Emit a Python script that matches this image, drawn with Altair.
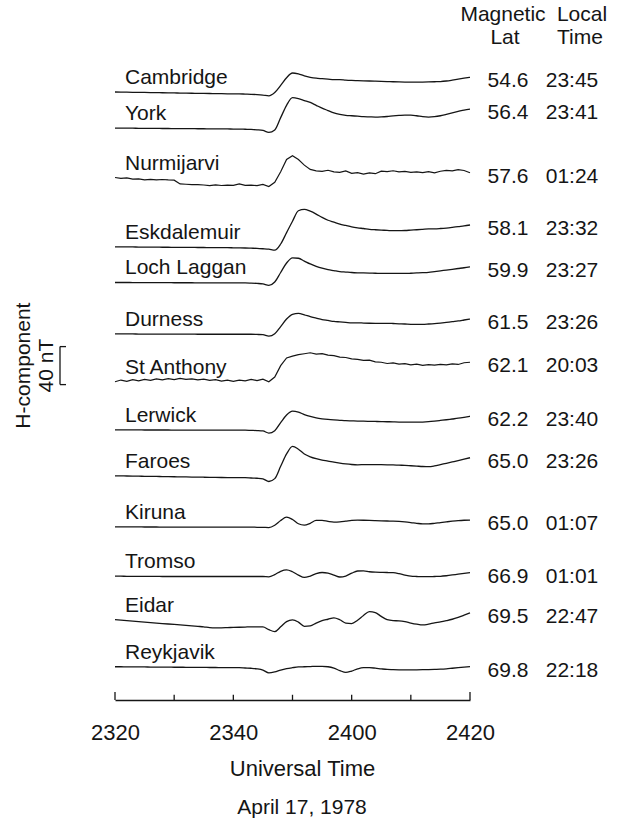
import altair as alt
import pandas as pd

# ---- data -------------------------------------------------------------
stations = ["Cambridge", "York", "Nurmijarvi", "Eskdalemuir", "Loch Laggan", "Durness",
            "St Anthony", "Lerwick", "Faroes", "Kiruna", "Tromso", "Eidar", "Reykjavik"]
mag_lat = ["54.6", "56.4", "57.6", "58.1", "59.9", "61.5", "62.1",
           "62.2", "65.0", "65.0", "66.9", "69.5", "69.8"]
mag_local_time = ["23:45", "23:41", "01:24", "23:32", "23:27", "23:26", "20:03",
                  "23:40", "23:26", "01:07", "01:01", "22:47", "22:18"]
# stations whose records carry short-period noise
noisy_stations = ["Nurmijarvi", "St Anthony"]

# minutes after 23:20 UT, one sample per minute
minutes = list(range(61))

# H-component deviation from the pre-event level, nT
cambridge = [2.0, 1.9, 1.8, 1.7, 1.6, 1.5, 1.4, 1.3, 1.2, 1.1,
             1.0, 0.9, 0.8, 0.7, 0.6, 0.5, 0.4, 0.3, 0.2, 0.1,
             0.0, 0.0, -0.2, -0.4, -0.7, -1.2, -2.0, 1.5, 9.0, 17.0,
             22.0, 21.0, 19.0, 17.5, 16.5, 16.0, 15.5, 15.0, 15.0, 14.5,
             14.2, 14.0, 13.8, 13.6, 13.4, 13.2, 13.0, 12.8, 12.6, 12.5,
             12.5, 12.5, 12.5, 12.6, 12.8, 13.0, 13.6, 14.5, 15.5, 16.5,
             17.5]
york = [1.0, 1.0, 0.9, 0.9, 0.8, 0.8, 0.7, 0.7, 0.6, 0.6,
        0.5, 0.5, 0.4, 0.4, 0.3, 0.3, 0.2, 0.2, 0.1, 0.1,
        0.0, 0.0, -0.2, -0.4, -0.8, -1.5, -3.5, -1.0, 12.0, 25.0,
        33.0, 32.0, 30.0, 28.0, 25.0, 22.0, 19.5, 17.0, 15.5, 14.5,
        14.0, 13.5, 13.0, 12.8, 12.6, 12.8, 13.2, 13.8, 14.3, 14.7,
        14.7, 14.0, 13.0, 12.6, 13.0, 14.0, 15.5, 17.0, 18.5, 20.0,
        21.0]
nurmijarvi = [8.0, 7.0, 7.6, 6.2, 6.6, 5.6, 6.1, 5.5, 5.9, 5.4,
              5.2, 1.2, 0.9, 0.6, 0.5, 0.1, -0.6, 0.3, -0.4, 0.0,
              -0.3, 1.3, -0.2, 0.0, -0.5, 0.7, -1.5, 3.0, 14.0, 27.0,
              31.0, 27.0, 21.0, 16.5, 15.0, 14.4, 15.6, 13.9, 13.4, 14.9,
              12.4, 13.1, 11.6, 12.9, 12.0, 14.7, 14.1, 15.1, 13.9, 14.4,
              13.4, 13.9, 13.1, 14.1, 12.9, 14.6, 15.4, 15.0, 16.3, 15.4,
              13.0]
eskdalemuir = [1.0, 1.0, 0.9, 0.9, 0.8, 0.8, 0.7, 0.7, 0.6, 0.6,
               0.5, 0.5, 0.4, 0.4, 0.3, 0.3, 0.2, 0.2, 0.1, 0.1,
               0.0, -0.1, -0.2, -0.4, -0.6, -1.0, -1.5, -2.5, 4.0, 16.0,
               28.0, 39.0, 40.5, 38.5, 35.5, 32.0, 29.0, 27.0, 25.0, 23.5,
               22.0, 21.0, 20.3, 19.5, 19.0, 18.6, 18.3, 18.0, 18.0, 18.2,
               18.6, 19.0, 19.5, 20.0, 20.0, 20.3, 20.8, 21.5, 22.3, 23.0,
               24.0]
loch_laggan = [0.5, 0.5, 0.5, 0.4, 0.4, 0.4, 0.3, 0.3, 0.3, 0.3,
               0.2, 0.2, 0.2, 0.2, 0.1, 0.1, 0.1, 0.1, 0.0, 0.0,
               0.0, 0.0, 0.0, -0.2, -0.5, -1.0, -2.5, 1.0, 11.0, 21.0,
               26.5, 26.0, 23.0, 20.0, 17.5, 15.5, 14.0, 13.0, 12.0, 11.5,
               11.0, 10.7, 10.5, 10.3, 10.2, 10.0, 10.0, 10.0, 10.0, 10.0,
               10.2, 10.5, 10.8, 11.2, 12.0, 12.8, 13.6, 14.4, 15.2, 16.0,
               17.0]
durness = [0.3, 0.3, 0.3, 0.3, 0.2, 0.2, 0.2, 0.2, 0.2, 0.1,
           0.1, 0.1, 0.1, 0.1, 0.0, 0.0, 0.0, 0.0, 0.0, 0.0,
           0.0, 0.0, 0.0, 0.0, -0.2, -0.5, -2.0, 0.5, 8.0, 16.0,
           21.0, 22.0, 20.5, 18.5, 17.0, 15.5, 14.5, 13.5, 13.0, 12.5,
           12.0, 12.0, 11.8, 11.6, 11.5, 11.5, 11.5, 11.3, 11.0, 10.8,
           10.5, 10.5, 10.5, 10.8, 11.2, 11.8, 12.5, 13.3, 14.0, 15.0,
           16.0]
st_anthony = [-1.0, 0.8, -0.5, 1.2, 0.0, 1.5, 0.5, 2.0, 1.0, 2.2,
              1.2, 2.5, 1.5, 2.0, 1.0, 1.8, 0.5, 1.2, -0.3, 0.8,
              -0.5, 0.6, 0.0, 1.5, 0.2, 1.8, -1.0, 4.0, 16.0, 24.0,
              26.0, 27.5, 28.5, 29.5, 28.0, 28.5, 27.0, 26.5, 25.0, 24.5,
              23.0, 22.5, 21.5, 21.8, 20.0, 19.5, 18.2, 18.8, 17.5, 18.0,
              16.8, 17.5, 16.2, 17.0, 16.5, 17.3, 16.8, 17.8, 17.2, 19.0,
              19.5]
lerwick = [0.3, 0.3, 0.3, 0.3, 0.3, 0.2, 0.2, 0.2, 0.2, 0.2,
           0.1, 0.1, 0.1, 0.1, 0.1, 0.0, 0.0, 0.0, 0.0, 0.0,
           0.0, 0.0, 0.0, -0.2, -0.4, -0.8, -3.0, -0.5, 8.0, 16.0,
           20.0, 19.0, 16.5, 14.5, 13.0, 12.0, 11.3, 10.8, 10.4, 10.0,
           9.8, 9.6, 9.5, 9.3, 9.2, 9.0, 8.9, 8.8, 8.6, 8.5,
           8.4, 8.4, 8.6, 9.0, 9.6, 10.3, 11.0, 11.8, 12.6, 13.6,
           14.7]
faroes = [2.0, 1.9, 1.8, 1.7, 1.6, 1.5, 1.4, 1.3, 1.2, 1.1,
          1.0, 0.9, 0.8, 0.7, 0.6, 0.5, 0.4, 0.3, 0.2, 0.1,
          0.0, 0.0, 0.0, -0.3, -0.6, -1.2, -4.0, -1.0, 12.0, 25.0,
          33.0, 30.0, 25.0, 22.0, 20.0, 18.5, 17.5, 16.3, 15.3, 14.5,
          13.9, 13.6, 13.7, 13.8, 13.8, 13.7, 13.6, 13.5, 13.2, 13.0,
          12.6, 12.2, 11.8, 11.6, 12.4, 13.8, 15.2, 16.6, 18.0, 19.5,
          21.0]
kiruna = [0.3, 0.3, 0.2, 0.2, 0.2, 0.1, 0.1, 0.1, 0.0, 0.0,
          0.0, 0.0, 0.0, 0.0, 0.0, 0.0, 0.0, 0.0, 0.0, 0.0,
          0.0, 0.0, 0.0, 0.0, -0.2, -0.3, -0.5, 2.0, 7.0, 10.5,
          8.0, 3.5, 2.0, 4.0, 7.0, 7.0, 6.0, 5.3, 5.5, 6.2,
          7.0, 7.3, 7.2, 7.0, 6.8, 6.6, 6.4, 6.3, 6.0, 5.5,
          4.8, 4.0, 3.4, 3.4, 4.0, 4.8, 5.5, 6.2, 6.8, 7.2,
          7.4]
tromso = [0.3, 0.3, 0.2, 0.2, 0.2, 0.1, 0.1, 0.1, 0.0, 0.0,
          0.0, 0.0, 0.0, 0.0, 0.0, 0.0, 0.0, 0.0, 0.0, 0.0,
          0.0, 0.0, 0.0, 0.0, 0.0, 0.0, -0.3, 2.0, 5.5, 7.0,
          5.0, 1.5, -1.0, 0.5, 3.0, 4.2, 3.5, 1.5, -0.5, 0.5,
          3.5, 5.8, 6.0, 5.0, 4.5, 4.3, 4.2, 4.0, 3.0, 1.5,
          0.3, 0.0, -0.2, -0.2, 0.0, 0.2, 0.8, 1.6, 2.5, 3.3,
          4.0]
eidar = [7.5, 7.0, 6.5, 6.0, 5.5, 5.0, 4.5, 4.0, 3.5, 3.0,
         2.5, 2.0, 1.5, 1.0, 0.5, 0.0, -0.8, -1.0, -1.0, -0.8,
         -0.6, -0.4, -0.2, 0.0, 0.0, 0.0, -3.0, -5.0, 0.0, 5.5,
         7.3, 5.0, 0.5, 1.0, 4.0, 6.5, 8.0, 9.5, 7.5, 4.0,
         3.5, 7.0, 12.0, 16.0, 15.0, 11.0, 7.5, 6.5, 6.3, 5.5,
         4.0, 2.8, 2.0, 2.8, 4.2, 5.2, 6.5, 8.0, 10.0, 12.3,
         14.7]
reykjavik = [1.0, 1.0, 0.9, 0.9, 0.8, 0.8, 0.7, 0.7, 0.6, 0.6,
             0.5, 0.5, 0.4, 0.4, 0.3, 0.3, 0.2, 0.2, 0.1, 0.1,
             0.0, 0.0, -0.3, -0.6, -1.2, -2.5, -5.5, -4.5, -2.5, -1.0,
             0.0, 0.8, 1.0, 1.2, 1.5, 1.5, 1.0, -0.5, -3.0, -5.0,
             -3.5, -1.2, 0.0, 0.0, -0.5, -1.2, -1.8, -2.0, -2.2, -2.3,
             -2.3, -2.2, -2.1, -2.0, -1.8, -1.6, -1.2, -0.6, 0.0, 0.6,
             1.2]

traces = [cambridge, york, nurmijarvi, eskdalemuir, loch_laggan, durness,
          st_anthony, lerwick, faroes, kiruna, tromso, eidar, reykjavik]

# time axis: minor ticks every 10 min, labelled every 20 min
tick_minutes = [0, 10, 20, 30, 40, 50, 60]
label_minutes = [0, 20, 40, 60]
tick_labels = ["2320", "2340", "2400", "2420"]

# scale bar length, nT
bar_nt = 40

# ---- layout -----------------------------------------------------------
# vertical stacking offset of each trace (nT on the shared vertical scale)
row_offset = [638, 601, 542, 476, 439, 385, 336, 284, 234, 182, 130, 77, 34]
bar_base = 332

FONT = "Liberation Sans"
INK = "#151515"
FS = 21

rows = []
for name, off, series in zip(stations, row_offset, traces):
    for t, v in zip(minutes, series):
        rows.append({"station": name, "t": t, "y": off + v})
df = pd.DataFrame(rows)
df_smooth = df[~df["station"].isin(noisy_stations)]
df_noisy = df[df["station"].isin(noisy_stations)]

first = df[df["t"] == minutes[0]].copy()
last = df[df["t"] == minutes[-1]].copy()
last["lat"] = mag_lat
last["mlt"] = mag_local_time

x_scale = alt.Scale(domain=[minutes[0], minutes[-1]], nice=False, zero=False)
y_scale = alt.Scale(domain=[0, 700], nice=False, zero=False)

step = label_minutes[1] - label_minutes[0]
label_expr = "[" + ",".join(f"'{s}'" for s in tick_labels) + f"][round(datum.value / {step})]"

x_enc = alt.X(
    "t:Q", scale=x_scale,
    axis=alt.Axis(
        values=label_minutes, labelExpr=label_expr, ticks=False, tickSize=0,
        grid=False, domain=True, domainColor=INK, domainWidth=1.3,
        labelFont=FONT, labelFontSize=22, labelColor=INK,
        labelBaseline="alphabetic", labelPadding=39, labelFlush=False,
        title="Universal Time", titleFont=FONT, titleFontSize=22,
        titleFontWeight="normal", titleColor=INK,
        titleBaseline="alphabetic", titleX=187, titleY=75,
    ),
)
y_enc = alt.Y("y:Q", scale=y_scale, axis=None)

lines = alt.Chart(df_smooth).mark_line(
    color=INK, strokeWidth=1.3, interpolate="monotone"
).encode(x=x_enc, y=y_enc, detail="station:N")

noisy_lines = alt.Chart(df_noisy).mark_line(
    color=INK, strokeWidth=1.2, interpolate="linear"
).encode(x=x_enc, y=y_enc, detail="station:N")

# upward tick marks along the time axis
tick_df = pd.DataFrame({
    "t": tick_minutes,
    "y0": [0] * len(tick_minutes),
    "y1": [8.5 if m in (tick_minutes[0], tick_minutes[-1]) else 5.5 for m in tick_minutes],
})
ticks = alt.Chart(tick_df).mark_rule(color=INK, strokeWidth=1.3).encode(
    x=x_enc,
    y=alt.Y("y0:Q", scale=y_scale, axis=None),
    y2="y1:Q",
)

names = alt.Chart(first).mark_text(
    align="left", baseline="alphabetic", dy=-8, font=FONT, fontSize=FS, color=INK
).encode(x=alt.value(10), y=y_enc, text="station:N")

lat_text = alt.Chart(last).mark_text(
    align="center", baseline="middle", dy=4, font=FONT, fontSize=FS, color=INK
).encode(x=alt.value(393), y=y_enc, text="lat:N")

mlt_text = alt.Chart(last).mark_text(
    align="center", baseline="middle", dy=4, font=FONT, fontSize=FS, color=INK
).encode(x=alt.value(457), y=y_enc, text="mlt:N")

one = pd.DataFrame({"k": [0]})


def note(text, x, y, size=FS, angle=0):
    return alt.Chart(one).mark_text(
        text=text, align="center", baseline="middle", font=FONT, fontSize=size,
        color=INK, angle=angle,
    ).encode(x=alt.value(x), y=alt.value(y))


headers = [
    note("Magnetic", 388, -20),
    note("Local", 467, -20),
    note("Lat", 390, 3),
    note("Time", 465, 3),
    note("April  17,  1978", 187, 773),
]

# 40 nT scale bar with its labels
bar_df = pd.DataFrame({"y0": [bar_base], "y1": [bar_base + bar_nt],
                       "ym": [bar_base + bar_nt / 2]})
bar_x = -55
bar_v = alt.Chart(bar_df).mark_rule(color=INK, strokeWidth=1.3).encode(
    x=alt.value(bar_x), y=alt.Y("y0:Q", scale=y_scale, axis=None), y2="y1:Q")
bar_lo = alt.Chart(bar_df).mark_rule(color=INK, strokeWidth=1.3).encode(
    x=alt.value(bar_x), x2=alt.value(bar_x + 6), y=alt.Y("y0:Q", scale=y_scale, axis=None))
bar_hi = alt.Chart(bar_df).mark_rule(color=INK, strokeWidth=1.3).encode(
    x=alt.value(bar_x), x2=alt.value(bar_x + 6), y=alt.Y("y1:Q", scale=y_scale, axis=None))
bar_label = alt.Chart(bar_df).mark_text(
    text=f"{bar_nt} nT", align="center", baseline="middle", font=FONT, fontSize=FS,
    color=INK, angle=270,
).encode(x=alt.value(-68), y=alt.Y("ym:Q", scale=y_scale, axis=None))
comp_label = alt.Chart(bar_df).mark_text(
    text="H-component", align="center", baseline="middle", font=FONT, fontSize=FS,
    color=INK, angle=270,
).encode(x=alt.value(-91), y=alt.Y("ym:Q", scale=y_scale, axis=None))

chart = alt.layer(
    lines, noisy_lines, ticks, names, lat_text, mlt_text,
    bar_v, bar_lo, bar_hi, bar_label, comp_label, *headers,
).properties(
    width=355, height=665,
    autosize=alt.AutoSizeParams(type="none"),
    padding={"left": 115, "top": 35, "right": 149, "bottom": 122},
    background="white",
).configure(font=FONT).configure_view(stroke=None, strokeWidth=0)

chart.save("out.html", embed_options={"renderer": "svg", "actions": False})
